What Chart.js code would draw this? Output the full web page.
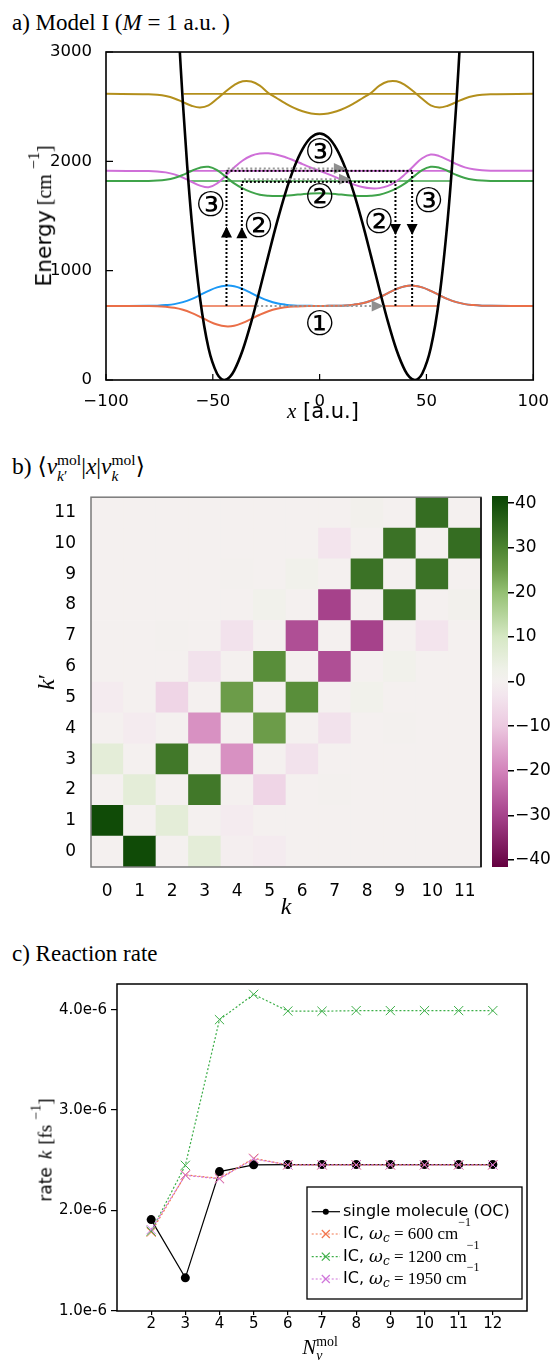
<!DOCTYPE html>
<html>
<head>
<meta charset="utf-8">
<script src="https://cdn.jsdelivr.net/npm/chart.js@4.4.1/dist/chart.umd.min.js"></script>
<style>
  html, body { margin: 0; padding: 0; background: #fff; }
  body { position: relative; width: 553px; height: 1361px; overflow: hidden; font-family: "DejaVu Sans", sans-serif; color: #000; }
  canvas { position: absolute; }
  .txt { position: absolute; white-space: nowrap; line-height: 1; }
  .serif { font-family: "Liberation Serif", "DejaVu Serif", serif; }
  .rot { transform: translate(-50%, -50%) rotate(-90deg); }
  .ctr { transform: translate(-50%, -50%); }
  .ss { display: inline-block; vertical-align: -0.42em; font-size: 0.66em; line-height: 1.02; text-align: left; }
  .ss > span { display: block; }
</style>
</head>
<body>

<div class="txt serif" style="left:12px;top:11px;font-size:23px">a) Model I (<i>M</i> = 1 a.u. )</div>
<canvas id="potChart" width="553" height="430" style="left:0;top:0"></canvas>
<div class="txt rot" style="left:44px;top:216px;font-size:21.8px">Energy<span class="serif" style="font-size:20px;margin-left:5px">[cm<span style="font-size:16px;position:relative;top:-0.75em;margin-left:5px">−1</span>]</span></div>
<div class="txt ctr" style="left:323px;top:411px;font-size:21px"><i class="serif">x</i> [a.u.]</div>

<div class="txt serif" style="left:12px;top:452px;font-size:23.5px">b) ⟨<i>v</i><span class="ss"><span>mol</span><span><i>k</i>′</span></span>|<i>x</i>|<i>v</i><span class="ss"><span>mol</span><span><i>k</i></span></span>⟩</div>
<canvas id="dipoleChart" width="486" height="440" style="left:0;top:480px"></canvas>
<canvas id="scaleBar" width="67" height="440" style="left:486px;top:480px"></canvas>
<div class="txt rot serif" style="left:46px;top:682px;font-size:24px"><i>k</i>′</div>
<div class="txt ctr serif" style="left:286px;top:906px;font-size:24px"><i>k</i></div>

<div class="txt serif" style="left:12px;top:942px;font-size:23px">c) Reaction rate</div>
<canvas id="rateChart" width="553" height="401" style="left:0;top:960px"></canvas>
<div class="txt rot" style="left:45px;top:1150px;font-size:17px">rate<i class="serif" style="font-size:19px;margin-left:8px">k</i><span class="serif" style="font-size:19px;margin-left:6px">[fs<span style="font-size:14px;position:relative;top:-0.8em;margin-left:5px">−1</span>]</span></div>
<div class="txt ctr serif" style="left:320px;top:1349px;font-size:21px"><i>N</i><span class="ss"><span>mol</span><span><i>v</i></span></span></div>

<script>
Chart.defaults.font.family = '"DejaVu Sans", sans-serif';
Chart.defaults.color = '#000';

// ---------- a) double well and vibrational states ----------
const xPot = [-66, -65, -64, -62, -60, -56, -52, -48, -46, -44.6, -42, -40, -36, -32, -28, -24, -20, -16, -12, -8, -4,
  0, 4, 8, 12, 16, 20, 24, 28, 32, 36, 40, 42, 44.6, 46, 48, 52, 56, 60, 62, 64, 65, 66];
const vPot = [3194, 2850, 2531, 1961, 1479, 750, 291, 57, 9, 0, 29, 86, 274, 531, 828, 1138, 1439, 1712, 1940, 2112, 2219,
  2255, 2219, 2112, 1940, 1712, 1439, 1138, 828, 531, 274, 86, 29, 0, 9, 57, 291, 750, 1479, 1961, 2531, 2850, 3194];

const xGrid = [-100, -80, -76, -72, -68, -64, -60, -56, -52, -48, -44, -40, -36, -32, -28, -24, -20, -16, -12, -8, -4,
  0, 4, 8, 12, 16, 20, 24, 28, 32, 36, 40, 44, 48, 52, 56, 60, 64, 68, 72, 76, 80, 100];
const psiBlue = [677, 678, 680, 685, 694, 712, 740, 776, 815, 847, 863, 858, 832, 795, 757, 725, 702, 689, 682, 679, 678,
  677, 678, 679, 682, 689, 702, 725, 757, 795, 832, 858, 863, 847, 815, 776, 740, 712, 694, 685, 680, 678, 677];
const psiOrange = [677, 676, 674, 669, 660, 642, 614, 578, 539, 507, 491, 496, 522, 559, 597, 629, 652, 665, 672, 675, 676,
  677, 678, 679, 682, 689, 702, 725, 757, 795, 832, 858, 863, 847, 815, 776, 740, 712, 694, 685, 680, 678, 677];
const psiGreen = [1820, 1821, 1824, 1832, 1848, 1876, 1912, 1942, 1950, 1920, 1860, 1798, 1752, 1718, 1695, 1685, 1682, 1685, 1692, 1700, 1706,
  1708, 1706, 1700, 1692, 1685, 1682, 1685, 1695, 1718, 1752, 1798, 1860, 1920, 1950, 1942, 1912, 1876, 1848, 1832, 1824, 1821, 1820];
const psiPurple = [1913, 1911, 1908, 1899, 1881, 1851, 1813, 1778, 1763, 1798, 1868, 1943, 2008, 2051, 2071, 2073, 2061, 2038, 2008, 1975, 1943,
  1913, 1883, 1851, 1818, 1788, 1765, 1753, 1755, 1775, 1818, 1883, 1958, 2028, 2063, 2048, 2013, 1975, 1945, 1927, 1918, 1915, 1913];
const psiOlive = [2617, 2614, 2609, 2597, 2575, 2542, 2509, 2493, 2512, 2572, 2639, 2698, 2732, 2730, 2692, 2625, 2577, 2530, 2489, 2458, 2438,
  2431, 2438, 2458, 2489, 2530, 2577, 2625, 2692, 2730, 2732, 2698, 2639, 2572, 2512, 2493, 2509, 2542, 2575, 2597, 2609, 2614, 2617];

// ground doublet level (inside each well) and the higher levels
const groundLevel = 677;
const groundTurning = [30.2, 55.7];
const levelEnergy = [1820, 1913, 2617];
const levelReach = [61.4, 61.8, 63.7];

// transitions: vertical paths, the bridge across the barrier, tunnelling arrows
const jumpX = [-43.6, -36.4, 35.5, 43.3];
const jumpTop = [1913, 1812, 1812, 1913];
const jumpHead = [1403, 1398, 1327, 1327];
const bridgeE = [1913, 1812];
const bridgeFrom = [-43.6, -36.4];
const bridgeTo = [43.3, 35.5];
const tunnelE = [677, 1935, 1836];
const tunnelFrom = [-29.5, -43, -35.4];
const tunnelTo = [30, 12.3, 14.7];
const stateTags = ['①', '②', '③', '③', '②', '②', '③'];
const stateTagX = [0, 0, 0, -51, -28.6, 27.8, 51];
const stateTagE = [494, 1652, 2063, 1584, 1387, 1426, 1615];

const xTicksA = [-100, -50, 0, 50, 100];
const yTicksA = [0, 1000, 2000, 3000];

const colOrange = '#ea6f48';
const colBlue = '#1b98f5';
const colGreen = '#3fa34a';
const colPurple = '#cf6fd8';
const colOlive = '#b38f1c';

const pts = (xs, ys) => xs.map((x, i) => ({ x, y: ys[i] }));
const minus = v => String(v).replace('-', '−');

function arrowHead(ctx, px, py, dir, len, half) {
  ctx.beginPath();
  ctx.moveTo(px, py);
  if (dir === 'up') { ctx.lineTo(px - half, py + len); ctx.lineTo(px + half, py + len); }
  else if (dir === 'down') { ctx.lineTo(px - half, py - len); ctx.lineTo(px + half, py - len); }
  else { ctx.lineTo(px - len, py - half); ctx.lineTo(px - len, py + half); }
  ctx.closePath();
  ctx.fill();
}

const potDecor = {
  id: 'potDecor',
  afterDatasetsDraw(chart) {
    const { ctx, scales: { x, y } } = chart;
    ctx.save();
    ctx.lineWidth = 2;
    // tunnelling paths (gray)
    ctx.strokeStyle = '#9a9a9a';
    ctx.fillStyle = '#8f8f8f';
    ctx.setLineDash([2, 2.5]);
    tunnelE.forEach((e, i) => {
      const py = y.getPixelForValue(e);
      ctx.beginPath();
      ctx.moveTo(x.getPixelForValue(tunnelFrom[i]), py);
      ctx.lineTo(x.getPixelForValue(tunnelTo[i]) - 8, py);
      ctx.stroke();
    });
    ctx.setLineDash([]);
    tunnelE.forEach((e, i) => arrowHead(ctx, x.getPixelForValue(tunnelTo[i]), y.getPixelForValue(e), 'right', 12, 5.5));

    // excitation and emission paths (black)
    ctx.strokeStyle = '#000';
    ctx.fillStyle = '#000';
    ctx.setLineDash([2, 2]);
    jumpX.forEach((jx, i) => {
      const px = x.getPixelForValue(jx);
      ctx.beginPath();
      ctx.moveTo(px, y.getPixelForValue(groundLevel));
      ctx.lineTo(px, y.getPixelForValue(jumpTop[i]));
      ctx.stroke();
    });
    bridgeE.forEach((e, i) => {
      const py = y.getPixelForValue(e);
      ctx.beginPath();
      ctx.moveTo(x.getPixelForValue(bridgeFrom[i]), py);
      ctx.lineTo(x.getPixelForValue(bridgeTo[i]), py);
      ctx.stroke();
    });
    ctx.setLineDash([]);
    jumpX.forEach((jx, i) => arrowHead(ctx, x.getPixelForValue(jx), y.getPixelForValue(jumpHead[i]), jx < 0 ? 'up' : 'down', 11, 5.5));

    // state numbers
    ctx.font = '34px "DejaVu Sans", "Noto Sans CJK JP", sans-serif';
    ctx.textAlign = 'center';
    ctx.textBaseline = 'middle';
    stateTags.forEach((t, i) => ctx.fillText(t, x.getPixelForValue(stateTagX[i]), y.getPixelForValue(stateTagE[i])));
    ctx.restore();
  },
  afterDraw(chart) {
    const { ctx, chartArea: a, scales: { x, y } } = chart;
    ctx.save();
    ctx.strokeStyle = '#000';
    ctx.lineWidth = 1.2;
    ctx.beginPath();
    x.ticks.forEach(t => { const px = x.getPixelForValue(t.value); ctx.moveTo(px, a.bottom); ctx.lineTo(px, a.bottom - 6); });
    y.ticks.forEach(t => { const py = y.getPixelForValue(t.value); ctx.moveTo(a.left, py); ctx.lineTo(a.left + 7, py); });
    ctx.stroke();
    ctx.lineWidth = 1.6;
    ctx.strokeRect(a.left, a.top, a.right - a.left, a.bottom - a.top);
    ctx.restore();
  }
};

const groundSegments = [
  { x: -groundTurning[1], y: groundLevel }, { x: -groundTurning[0], y: groundLevel }, { x: 0, y: null },
  { x: groundTurning[0], y: groundLevel }, { x: groundTurning[1], y: groundLevel }
];
const levelColors = [colGreen, colPurple, colOlive];

new Chart(document.getElementById('potChart'), {
  type: 'line',
  data: {
    datasets: [
      { data: pts(xPot, vPot), borderColor: '#000', borderWidth: 2.6, cubicInterpolationMode: 'monotone', order: 0 },
      { data: pts(xGrid, psiOrange), borderColor: colOrange, borderWidth: 2, tension: 0.4, order: 1 },
      { data: pts(xGrid, psiBlue), borderColor: colBlue, borderWidth: 2, tension: 0.4, order: 2 },
      { data: pts(xGrid, psiGreen), borderColor: colGreen, borderWidth: 2, tension: 0.4, order: 3 },
      { data: pts(xGrid, psiPurple), borderColor: colPurple, borderWidth: 2, tension: 0.4, order: 4 },
      { data: pts(xGrid, psiOlive), borderColor: colOlive, borderWidth: 2, tension: 0.4, order: 5 },
      { data: groundSegments, borderColor: colOrange, borderWidth: 1.6, spanGaps: false, order: 6 },
      ...levelEnergy.map((e, i) => ({
        data: [{ x: -levelReach[i], y: e }, { x: levelReach[i], y: e }],
        borderColor: levelColors[i], borderWidth: 1.6, order: 6
      }))
    ]
  },
  options: {
    responsive: false, animation: false, events: [],
    layout: { padding: { top: 52, right: 15, left: 0, bottom: 0 } },
    elements: { point: { radius: 0 } },
    plugins: { legend: { display: false }, tooltip: { enabled: false } },
    scales: {
      x: {
        type: 'linear', min: -100, max: 100,
        afterBuildTicks: s => { s.ticks = xTicksA.map(v => ({ value: v })); },
        afterFit: s => { s.height = 50; },
        grid: { display: false }, border: { display: false },
        ticks: { font: { size: 16.5 }, padding: 4, maxRotation: 0, callback: v => minus(v) }
      },
      y: {
        min: 0, max: 3000,
        afterBuildTicks: s => { s.ticks = yTicksA.map(v => ({ value: v })); },
        afterFit: s => { s.width = 106; },
        grid: { display: false }, border: { display: false },
        ticks: { font: { size: 16.5 }, padding: 6, callback: v => String(v) }
      }
    }
  },
  plugins: [potDecor]
});

// ---------- b) transition dipole matrix <v_k'|x|v_k> ----------
const kLabels = ['0', '1', '2', '3', '4', '5', '6', '7', '8', '9', '10', '11'];
const kIndex = [0, 1, 2, 3, 4, 5, 6, 7, 8, 9, 10, 11];
// one array per row k' (columns k = 0..11)
const dipoleRows = [
  [0, 40.5, 0, 6, -0.5, -1.5, 0, 0, 0, 0, 0, 0],
  [40.5, 0, 6, 0, -1.5, 0, 0, 0, 0, 0, 0, 0],
  [0, 6, 0, 32, 0, -7, 0, 0.3, 0, 0, 0, 0],
  [6, 0, 32, 0, -18, 0, -4, 0, 0, 0, 0, 0],
  [0, -1.5, 0, -18, 0, 25, 0, -4, 0, 0.3, 0, 0],
  [-1.5, 0, -7, 0, 25, 0, 28, 0, 1.5, 0, 0, 0],
  [0, 0, 0, -4, 0, 28, 0, -28, 0, 1.5, 0, 0],
  [0, 0, 0.3, 0, -4, 0, -28, 0, -30, 0, -3.5, 0],
  [0, 0, 0, 0, 0, 1.5, 0, -30, 0, 33, 0, 1],
  [0, 0, 0, 0, 0.3, 0, 1.5, 0, 33, 0, 33, 0],
  [0, 0, 0, 0, 0, 0, 0, -3.5, 0, 33, 0, 34],
  [0, 0, 0, 0, 0, 0, 0, 0, 1, 0, 34, 0]
];
const cbMin = -41.6;
const cbMax = 41.6;
const cbTicks = [-40, -30, -20, -10, 0, 10, 20, 30, 40];

// diverging purple-white-green palette
const cmap = [
  [-41.6, [100, 0, 62]], [-40, [109, 10, 75]], [-30, [166, 66, 139]], [-20, [211, 131, 187]],
  [-10, [236, 201, 224]], [-3, [243, 230, 238]], [0, [244, 240, 239]], [3, [238, 241, 231]],
  [10, [214, 232, 196]], [20, [148, 192, 114]], [25, [108, 156, 73]], [30, [76, 132, 48]],
  [33, [59, 114, 38]], [40, [18, 77, 9]], [41.6, [11, 70, 4]]
];
function colorFor(v) {
  if (v <= cmap[0][0]) return `rgb(${cmap[0][1].join(',')})`;
  for (let i = 1; i < cmap.length; i++) {
    const [v1, c1] = cmap[i];
    if (v <= v1) {
      const [v0, c0] = cmap[i - 1];
      const f = (v - v0) / (v1 - v0);
      return `rgb(${c0.map((c, j) => Math.round(c + f * (c1[j] - c))).join(',')})`;
    }
  }
  return `rgb(${cmap[cmap.length - 1][1].join(',')})`;
}

const frame = (color, rightColor) => ({
  id: 'frame',
  afterDraw(chart) {
    const { ctx, chartArea: a } = chart;
    ctx.save();
    ctx.strokeStyle = color;
    ctx.lineWidth = 1.5;
    ctx.strokeRect(a.left, a.top, a.right - a.left, a.bottom - a.top);
    if (rightColor) {
      ctx.strokeStyle = rightColor;
      ctx.beginPath(); ctx.moveTo(a.right, a.top); ctx.lineTo(a.right, a.bottom); ctx.stroke();
    }
    ctx.restore();
  }
});

new Chart(document.getElementById('dipoleChart'), {
  type: 'bar',
  data: {
    labels: kLabels,
    datasets: dipoleRows.map((row, kp) => ({
      data: row.map(() => [kp - 0.5, kp + 0.5]),
      backgroundColor: row.map(colorFor),
      borderWidth: 0, grouped: false,
      barPercentage: 1, categoryPercentage: 1
    }))
  },
  options: {
    responsive: false, animation: false, events: [],
    layout: { padding: { top: 16, right: 5, left: 0, bottom: 0 } },
    plugins: { legend: { display: false }, tooltip: { enabled: false } },
    scales: {
      x: {
        grid: { display: false }, border: { display: false },
        afterFit: s => { s.height = 53; },
        ticks: { font: { size: 17 }, padding: 6, autoSkip: false, maxRotation: 0 }
      },
      y: {
        type: 'linear', min: -0.5, max: 11.5,
        afterBuildTicks: s => { s.ticks = kIndex.map(v => ({ value: v })); },
        afterFit: s => { s.width = 91; },
        grid: { display: false }, border: { display: false },
        ticks: { font: { size: 17 }, padding: 7 }
      }
    }
  },
  plugins: [frame('#7a7a7a', '#000')]
});

new Chart(document.getElementById('scaleBar'), {
  type: 'bar',
  data: {
    labels: ['scale'],
    datasets: [{
      data: [[cbMin, cbMax]],
      borderWidth: 0, barPercentage: 1, categoryPercentage: 1,
      backgroundColor: c => {
        const a = c.chart.chartArea;
        if (!a) return null;
        const y = c.chart.scales.y;
        const g = c.chart.ctx.createLinearGradient(0, y.getPixelForValue(cbMin), 0, y.getPixelForValue(cbMax));
        cmap.forEach(([v]) => g.addColorStop((v - cbMin) / (cbMax - cbMin), colorFor(v)));
        return g;
      }
    }]
  },
  options: {
    responsive: false, animation: false, events: [],
    layout: { padding: { top: 16, right: 0, left: 6, bottom: 53 } },
    plugins: { legend: { display: false }, tooltip: { enabled: false } },
    scales: {
      x: { display: false },
      y: {
        position: 'right', min: cbMin, max: cbMax,
        afterBuildTicks: s => { s.ticks = cbTicks.map(v => ({ value: v })); },
        afterFit: s => { s.width = 45; },
        grid: { drawOnChartArea: false, drawTicks: true, tickLength: 6, color: '#000', lineWidth: 1.5 },
        border: { display: false },
        ticks: { font: { size: 17 }, padding: 1, callback: v => minus(v) }
      }
    }
  }
});

// ---------- c) reaction rate vs. number of vibrational states ----------
const nVib = [2, 3, 4, 5, 6, 7, 8, 9, 10, 11, 12];
const rateOC = [1.91e-6, 1.33e-6, 2.388e-6, 2.455e-6, 2.458e-6, 2.458e-6, 2.458e-6, 2.458e-6, 2.458e-6, 2.458e-6, 2.458e-6];
const rateIC600 = [1.784e-6, 2.355e-6, 2.32e-6, 2.52e-6, 2.455e-6, 2.455e-6, 2.455e-6, 2.455e-6, 2.455e-6, 2.455e-6, 2.455e-6];
const rateIC1200 = [1.794e-6, 2.45e-6, 3.9e-6, 4.152e-6, 3.986e-6, 3.984e-6, 3.99e-6, 3.99e-6, 3.99e-6, 3.99e-6, 3.99e-6];
const rateIC1950 = [1.81e-6, 2.351e-6, 2.315e-6, 2.514e-6, 2.455e-6, 2.455e-6, 2.455e-6, 2.455e-6, 2.455e-6, 2.455e-6, 2.455e-6];
const cavityFreq = ['600', '1200', '1950'];
const rateTicks = [1e-6, 2e-6, 3e-6, 4e-6];

const rateColors = ['#f2764d', '#3cae48', '#cf75da'];

function drawRich(ctx, parts, x, y) {
  let cx = x;
  parts.forEach(([t, font, dy]) => {
    ctx.font = font;
    ctx.fillText(t, cx, y + (dy || 0));
    cx += ctx.measureText(t).width;
  });
}

const rateLegend = {
  id: 'rateLegend',
  afterDraw(chart) {
    const { ctx } = chart;
    const top = chart.canvas.offsetTop;
    const box = { l: 307, t: 1187 - top, r: 522, b: 1299 - top };
    const rows = [1211.7, 1234, 1256.7, 1279].map(v => v - top);
    ctx.save();
    ctx.fillStyle = '#fff';
    ctx.fillRect(box.l, box.t, box.r - box.l, box.b - box.t);
    ctx.strokeStyle = '#000';
    ctx.lineWidth = 1.3;
    ctx.strokeRect(box.l, box.t, box.r - box.l, box.b - box.t);
    ctx.textBaseline = 'middle';

    // sample lines and markers
    ctx.lineWidth = 1.2;
    ctx.beginPath();
    ctx.moveTo(311.7, rows[0]); ctx.lineTo(340, rows[0]);
    ctx.stroke();
    ctx.fillStyle = '#000';
    ctx.beginPath(); ctx.arc(325.8, rows[0], 3, 0, Math.PI * 2); ctx.fill();
    rateColors.forEach((c, i) => {
      const yy = rows[i + 1];
      ctx.strokeStyle = c;
      ctx.setLineDash([2, 2]);
      ctx.beginPath(); ctx.moveTo(311.7, yy); ctx.lineTo(340, yy); ctx.stroke();
      ctx.setLineDash([]);
      ctx.beginPath();
      ctx.moveTo(321.8, yy - 4); ctx.lineTo(329.8, yy + 4);
      ctx.moveTo(321.8, yy + 4); ctx.lineTo(329.8, yy - 4);
      ctx.stroke();
    });

    ctx.fillStyle = '#000';
    ctx.font = '16px "DejaVu Sans"';
    ctx.fillText('single molecule (OC)', 343, rows[0]);
    cavityFreq.forEach((f, i) => {
      drawRich(ctx, [
        ['IC, ', '16px "DejaVu Sans"'],
        ['ω', 'italic 17px "DejaVu Serif"', 1],
        ['c', 'italic 12px "DejaVu Serif"', 5],
        [' = ' + f + ' cm', '17px "Liberation Serif"', 1],
        ['−1', '12px "Liberation Serif"', -11]
      ], 343, rows[i + 1]);
    });
    ctx.restore();
  }
};

const rateSeries = [
  { data: pts(nVib, rateOC), borderColor: '#000', backgroundColor: '#000', borderWidth: 1.2,
    pointStyle: 'circle', pointRadius: 4.5, pointBorderWidth: 0, order: 4 },
  { data: pts(nVib, rateIC600), borderColor: rateColors[0], borderWidth: 1.2, borderDash: [2, 2],
    pointStyle: 'crossRot', pointRadius: 6.5, pointBorderWidth: 1, order: 3 },
  { data: pts(nVib, rateIC1200), borderColor: rateColors[1], borderWidth: 1.2, borderDash: [2, 2],
    pointStyle: 'crossRot', pointRadius: 6.5, pointBorderWidth: 1, order: 2 },
  { data: pts(nVib, rateIC1950), borderColor: rateColors[2], borderWidth: 1.2, borderDash: [2, 2],
    pointStyle: 'crossRot', pointRadius: 6.5, pointBorderWidth: 1, order: 1 }
];

new Chart(document.getElementById('rateChart'), {
  type: 'line',
  data: { datasets: rateSeries },
  options: {
    responsive: false, animation: false, events: [],
    layout: { padding: { top: 24, right: 26, left: 0, bottom: 0 } },
    plugins: { legend: { display: false }, tooltip: { enabled: false } },
    scales: {
      x: {
        type: 'linear', min: 1, max: 13,
        afterBuildTicks: s => { s.ticks = nVib.map(v => ({ value: v })); },
        afterFit: s => { s.height = 50; },
        grid: { drawOnChartArea: false, drawTicks: true, tickLength: 4, color: '#000', lineWidth: 1.2 },
        border: { display: false },
        ticks: { font: { size: 15 }, padding: 0, maxRotation: 0, autoSkip: false }
      },
      y: {
        min: 1e-6, max: 4.255e-6,
        afterBuildTicks: s => { s.ticks = rateTicks.map(v => ({ value: v })); },
        afterFit: s => { s.width = 117; },
        grid: { drawOnChartArea: false, drawTicks: true, tickLength: 6, color: '#000', lineWidth: 1.2 },
        border: { display: false },
        ticks: { font: { size: 15 }, padding: 4, callback: v => (v * 1e6).toFixed(1) + 'e-6' }
      }
    }
  },
  plugins: [frame('#000'), rateLegend]
});
</script>
</body>
</html>
